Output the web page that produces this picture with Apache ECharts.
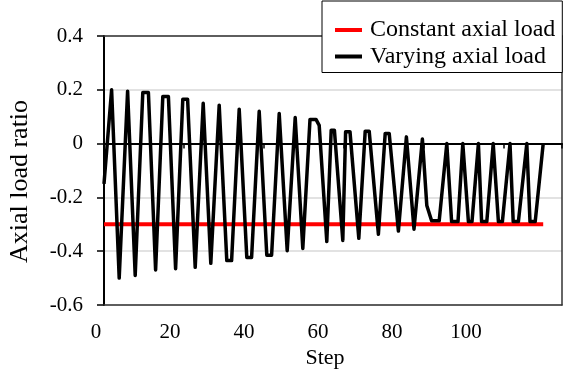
<!DOCTYPE html>
<html>
<head>
<meta charset="utf-8">
<script src="https://cdn.jsdelivr.net/npm/echarts@6/dist/echarts.min.js"></script>
<style>
  html, body { margin: 0; padding: 0; background: #fff; }
  #chart { width: 563px; height: 370px; }
</style>
</head>
<body>
<div id="chart"></div>
<script>
// Loading history: step number vs. axial load ratio
const constSteps = [0, 109.8];
const constRatio = [-0.3, -0.3];

const varySteps = [0, 1.9, 3.8, 5.9, 7.8, 9.7, 11.1, 12.9, 14.7, 16.1, 17.9, 19.7, 20.9, 22.8,
  24.8, 26.7, 28.8, 30.7, 31.9, 33.8, 35.7, 36.9, 38.8, 40.7, 41.9, 43.8, 45.8, 47.8, 49.7,
  51.5, 53.0, 53.8, 55.7, 56.8, 57.6, 59.7, 60.4, 61.5, 63.7, 65.3, 66.3, 68.6, 70.3, 71.3,
  73.6, 75.6, 77.5, 79.6, 80.7, 81.9, 83.8, 85.7, 86.9, 88.5, 89.7, 91.1, 92.0, 93.6, 94.4,
  95.7, 97.3, 98.6, 99.6, 101.5, 102.3, 103.6, 105.7, 106.5, 107.8, 109.8];
const varyRatio = [-0.15, 0.2, -0.5, 0.195, -0.49, 0.19, 0.19, -0.47, 0.175, 0.175, -0.465,
  0.165, 0.165, -0.46, 0.15, -0.445, 0.143, -0.435, -0.435, 0.128, -0.423, -0.423, 0.12,
  -0.415, -0.415, 0.112, -0.398, 0.097, -0.39, 0.09, 0.09, 0.068, -0.364, 0.05, 0.05, -0.36,
  0.044, 0.044, -0.352, 0.046, 0.046, -0.337, 0.038, 0.038, -0.325, 0.025, -0.318, 0.017,
  -0.23, -0.287, -0.287, 0, -0.29, -0.29, 0, -0.29, -0.29, 0, -0.29, -0.29, 0, -0.29, -0.29,
  0, -0.29, -0.29, 0, -0.29, -0.29, 0];

const stepTicks = [0, 20, 40, 60, 80, 100];
const ratioTicks = [-0.6, -0.4, -0.2, 0, 0.2, 0.4];

const seriesNames = ['Constant axial load', 'Varying axial load'];

const FONT = "'Liberation Serif', 'Times New Roman', serif";

const pairs = (xs, ys) => xs.map((x, i) => [x, ys[i]]);

const chart = echarts.init(document.getElementById('chart'), null, { renderer: 'canvas' });

const frameLine = { show: true, onZero: false, lineStyle: { color: '#333', width: 1.5 } };

chart.setOption({
  animation: false,
  backgroundColor: '#fff',
  grid: [
    // plotting area
    { left: 104, right: 1, top: 36, bottom: 65, containLabel: false, outerBoundsMode: 'none' },
    // step-label strip under the plot
    { left: 96, width: 444, top: 36, bottom: 65, containLabel: false, outerBoundsMode: 'none' }
  ],
  legend: {
    orient: 'vertical',
    left: 322,
    top: 1,
    z: 10,
    backgroundColor: '#fff',
    borderColor: '#000',
    borderWidth: 1,
    borderRadius: 0,
    padding: [17, 7, 4, 13],
    itemGap: 2.5,
    itemWidth: 27,
    itemHeight: 4,
    icon: 'rect',
    textStyle: { fontFamily: FONT, fontSize: 24, color: '#000', padding: [0, 0, 0, 3] },
    data: seriesNames
  },
  xAxis: [
    {
      // data axis: its line sits on the zero ratio line
      type: 'value',
      gridIndex: 0,
      min: 0,
      max: 114.5,
      interval: 20,
      position: 'bottom',
      z: 3,
      axisLine: { show: true, onZero: true, lineStyle: { color: '#000', width: 2 } },
      axisTick: { show: true, inside: false, length: 5, lineStyle: { color: '#000', width: 1.5 } },
      axisLabel: { show: false },
      splitLine: { show: false }
    },
    {
      // bottom frame edge carrying the axis title
      type: 'value',
      gridIndex: 0,
      min: 0,
      max: 114.5,
      position: 'bottom',
      z: 3,
      name: 'Step',
      nameLocation: 'middle',
      nameGap: 42,
      nameTextStyle: { fontFamily: FONT, fontSize: 22, color: '#000', padding: [0, 16, 0, 0] },
      axisLine: frameLine,
      axisTick: { show: false },
      axisLabel: { show: false },
      splitLine: { show: false }
    },
    {
      // top frame edge
      type: 'value',
      gridIndex: 0,
      min: 0,
      max: 114.5,
      position: 'top',
      z: 3,
      axisLine: frameLine,
      axisTick: { show: false },
      axisLabel: { show: false },
      splitLine: { show: false }
    },
    {
      // step tick labels
      type: 'value',
      gridIndex: 1,
      min: 0,
      max: 120,
      interval: 20,
      position: 'bottom',
      axisLine: { show: false, onZero: false },
      axisTick: { show: false },
      axisLabel: {
        show: true,
        margin: 17,
        fontFamily: FONT,
        fontSize: 21,
        color: '#000',
        formatter: v => (stepTicks.indexOf(Math.round(v)) >= 0 ? String(Math.round(v)) : '')
      },
      splitLine: { show: false }
    }
  ],
  yAxis: [
    {
      type: 'value',
      gridIndex: 0,
      min: ratioTicks[0],
      max: ratioTicks[ratioTicks.length - 1],
      interval: 0.2,
      position: 'left',
      z: 1,
      name: 'Axial load ratio',
      nameLocation: 'middle',
      nameGap: 71,
      nameTextStyle: { fontFamily: FONT, fontSize: 26, color: '#000', padding: [0, 22, 0, 0] },
      axisLine: { show: true, onZero: false, lineStyle: { color: '#000', width: 2 } },
      axisTick: { show: true, inside: false, length: 7, lineStyle: { color: '#000', width: 1.5 } },
      axisLabel: {
        margin: 21,
        fontFamily: FONT,
        fontSize: 21,
        color: '#000',
        formatter: v => String(Math.round(v * 10) / 10)
      },
      splitLine: { show: true, lineStyle: { color: '#d9d9d9', width: 1.5 } }
    },
    {
      // right frame edge
      type: 'value',
      gridIndex: 0,
      min: ratioTicks[0],
      max: ratioTicks[ratioTicks.length - 1],
      position: 'right',
      z: 3,
      axisLine: frameLine,
      axisTick: { show: false },
      axisLabel: { show: false },
      splitLine: { show: false }
    },
    {
      type: 'value',
      gridIndex: 1,
      min: ratioTicks[0],
      max: ratioTicks[ratioTicks.length - 1],
      show: false
    }
  ],
  series: [
    {
      name: seriesNames[0],
      type: 'line',
      xAxisIndex: 0,
      yAxisIndex: 0,
      z: 4,
      showSymbol: false,
      symbol: 'none',
      color: '#ff0000',
      lineStyle: { color: '#ff0000', width: 4 },
      data: pairs(constSteps, constRatio)
    },
    {
      name: seriesNames[1],
      type: 'line',
      xAxisIndex: 0,
      yAxisIndex: 0,
      z: 5,
      showSymbol: false,
      symbol: 'none',
      color: '#000',
      lineStyle: { color: '#000', width: 3.5, join: 'round' },
      data: pairs(varySteps, varyRatio)
    }
  ]
});
</script>
</body>
</html>
